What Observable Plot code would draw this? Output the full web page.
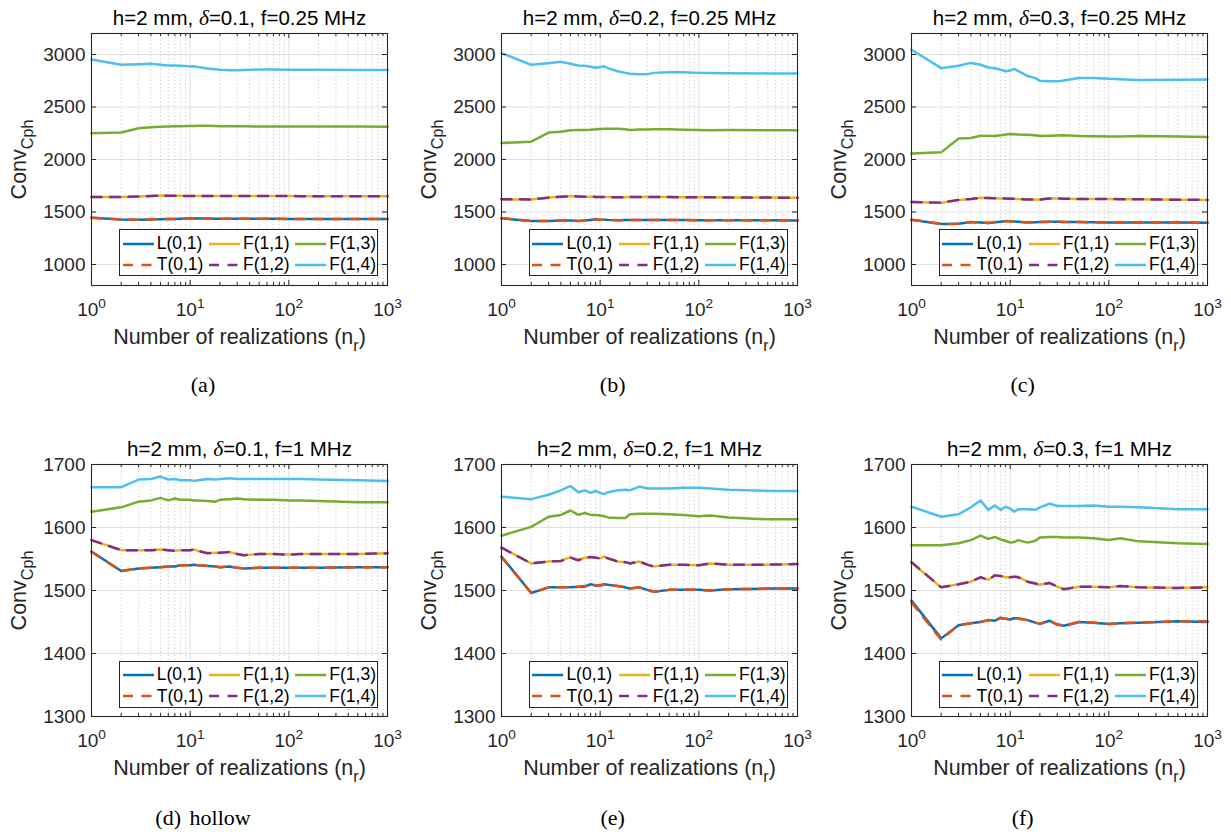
<!DOCTYPE html>
<html><head><meta charset="utf-8">
<script src="https://cdn.jsdelivr.net/npm/d3@7"></script>
<script src="https://cdn.jsdelivr.net/npm/@observablehq/plot@0.6"></script>
<style>
body{margin:0;background:#fff;}
#fig{position:relative;width:1231px;height:836px;overflow:hidden;font-family:"Liberation Sans",Arial,Helvetica,sans-serif;background:#fff;}
.panel{position:absolute;width:410px;height:380px;}
.legend{position:absolute;box-sizing:border-box;border:1px solid #262626;background:#fff;width:259px;height:47px;}
.item{position:absolute;height:20px;display:flex;align-items:center;font-size:17.5px;color:#000;white-space:nowrap;}
.item svg{display:block;margin-right:3px;}
.caption{position:absolute;font-family:"Liberation Serif","Times New Roman",serif;font-size:22px;line-height:1;transform:translate(-50%,-50%);white-space:nowrap;word-spacing:3px;color:#000;}
</style></head><body><div id="fig"></div><script>
// ---------- data ----------
const NR = [1,2,3,4,5,6,7,8,9,10,11,12,15,18,20,25,30,35,50,70,100,130,200,500,1000];
const SERIES = ["L(0,1)","T(0,1)","F(1,1)","F(1,2)","F(1,3)","F(1,4)"];
const TITLES = [
  "h=2 mm, δ=0.1, f=0.25 MHz","h=2 mm, δ=0.2, f=0.25 MHz","h=2 mm, δ=0.3, f=0.25 MHz",
  "h=2 mm, δ=0.1, f=1 MHz","h=2 mm, δ=0.2, f=1 MHz","h=2 mm, δ=0.3, f=1 MHz"];
const CAPTIONS = ["(a)","(b)","(c)","(d) hollow","(e)","(f)"];
const XLABEL = "Number of realizations (n_{r})";
const YLABEL = "Conv_{Cph}";
const X_TICKS = [1,10,100,1000];
const X_MINOR = [2,3,4,5,6,7,8,9,20,30,40,50,60,70,80,90,200,300,400,500,600,700,800,900];
const Y_TICKS_TOP = [1000,1500,2000,2500,3000];
const Y_DOMAIN_TOP = [800,3200];
const Y_TICKS_BOTTOM = [1300,1400,1500,1600,1700];
const Y_DOMAIN_BOTTOM = [1300,1700];

// panel (a)
const a_L01 = [1445,1428,1427,1429,1432,1433,1434,1436,1437,1438,1440,1439,1437,1436,1436,1435,1435,1435,1435,1435,1434,1434,1434,1433,1433];
const a_T01 = [1446,1428,1427,1430,1432,1433,1434,1436,1437,1438,1440,1439,1437,1436,1436,1435,1435,1435,1435,1435,1434,1434,1434,1433,1433];
const a_F11 = [1643,1643,1648,1652,1656,1655,1654,1654,1653,1653,1654,1653,1652,1652,1652,1653,1653,1652,1652,1652,1652,1651,1651,1650,1650];
const a_F12 = [1642,1643,1648,1652,1655,1655,1654,1654,1653,1653,1653,1653,1652,1652,1652,1653,1653,1652,1652,1652,1652,1651,1651,1650,1649];
const a_F13 = [2249,2258,2298,2306,2313,2314,2316,2317,2318,2320,2320,2321,2322,2320,2317,2316,2316,2316,2315,2315,2315,2315,2314,2314,2313];
const a_F14 = [2952,2902,2907,2911,2903,2896,2895,2893,2890,2885,2888,2880,2866,2860,2855,2850,2851,2853,2857,2856,2855,2855,2854,2853,2852];
// panel (b)
const b_L01 = [1440,1414,1415,1420,1418,1414,1418,1424,1430,1426,1427,1425,1422,1423,1423,1424,1424,1423,1423,1423,1422,1422,1421,1421,1420];
const b_T01 = [1441,1415,1415,1420,1418,1415,1418,1424,1429,1426,1427,1425,1422,1423,1423,1424,1424,1423,1423,1423,1422,1422,1421,1421,1420];
const b_F11 = [1620,1620,1637,1645,1652,1648,1646,1646,1644,1642,1643,1642,1641,1641,1642,1642,1642,1642,1642,1641,1640,1640,1639,1637,1636];
const b_F12 = [1621,1620,1637,1645,1651,1648,1646,1646,1644,1642,1643,1642,1641,1641,1642,1642,1642,1642,1642,1641,1640,1640,1639,1637,1636];
const b_F13 = [2157,2170,2256,2265,2278,2280,2282,2284,2287,2291,2292,2293,2294,2288,2282,2285,2286,2287,2288,2284,2280,2279,2280,2279,2278];
const b_F14 = [3013,2902,2917,2930,2911,2895,2892,2884,2873,2880,2888,2870,2841,2825,2816,2813,2813,2825,2832,2830,2825,2824,2822,2820,2819];
// panel (c)
const c_L01 = [1426,1385,1388,1404,1400,1395,1402,1408,1414,1411,1410,1408,1401,1403,1404,1406,1407,1405,1404,1402,1401,1401,1400,1399,1398];
const c_T01 = [1427,1386,1388,1403,1400,1395,1402,1408,1413,1411,1410,1408,1401,1403,1404,1406,1407,1405,1404,1402,1401,1401,1400,1399,1398];
const c_F11 = [1595,1589,1614,1624,1636,1633,1630,1629,1628,1627,1626,1624,1620,1619,1617,1630,1628,1627,1624,1624,1624,1622,1621,1617,1614];
const c_F12 = [1596,1589,1614,1624,1635,1633,1630,1629,1628,1627,1626,1624,1620,1619,1617,1629,1628,1627,1624,1624,1624,1622,1621,1617,1615];
const c_F13 = [2056,2068,2199,2205,2227,2225,2224,2230,2238,2243,2240,2237,2235,2230,2224,2226,2228,2231,2224,2222,2218,2219,2224,2219,2215];
const c_F14 = [3045,2870,2892,2920,2902,2876,2870,2855,2841,2847,2863,2844,2795,2775,2749,2746,2746,2752,2776,2776,2768,2765,2758,2760,2762];
// panel (d)
const d_L01 = [1562,1531,1535,1536,1537,1538,1538,1540,1540,1540,1541,1540,1539,1538,1537,1538,1536,1535,1536,1536,1536,1536,1536,1537,1537];
const d_T01 = [1561,1531,1535,1536,1537,1538,1538,1540,1540,1540,1540,1540,1539,1538,1537,1538,1536,1535,1536,1536,1536,1536,1536,1537,1537];
const d_F11 = [1580,1564,1564,1564,1565,1564,1563,1564,1564,1564,1565,1563,1559,1560,1560,1561,1558,1556,1558,1558,1557,1558,1558,1558,1559];
const d_F12 = [1580,1564,1564,1564,1565,1564,1563,1564,1564,1564,1565,1563,1559,1560,1560,1561,1558,1556,1558,1558,1557,1558,1558,1558,1559];
const d_F13 = [1625,1632,1641,1643,1647,1643,1646,1644,1644,1644,1643,1643,1642,1641,1644,1645,1646,1645,1644,1644,1643,1643,1642,1640,1640];
const d_F14 = [1664,1664,1676,1677,1681,1676,1677,1675,1675,1675,1674,1675,1677,1676,1677,1678,1677,1677,1677,1677,1677,1677,1676,1675,1674];
// panel (e)
const e_L01 = [1554,1496,1505,1505,1505,1506,1506,1510,1508,1508,1510,1509,1507,1505,1503,1505,1501,1498,1501,1501,1501,1500,1502,1503,1503];
const e_T01 = [1553,1496,1505,1505,1505,1506,1507,1510,1508,1508,1510,1509,1507,1505,1503,1505,1501,1498,1501,1501,1501,1500,1502,1503,1503];
const e_F11 = [1568,1543,1546,1547,1553,1548,1552,1553,1552,1551,1554,1551,1546,1545,1543,1546,1541,1538,1541,1541,1540,1543,1541,1541,1542];
const e_F12 = [1568,1543,1546,1547,1552,1548,1552,1553,1552,1551,1553,1551,1546,1545,1543,1546,1541,1538,1541,1541,1540,1543,1541,1541,1542];
const e_F13 = [1587,1601,1617,1620,1627,1620,1623,1620,1620,1619,1618,1616,1615,1615,1621,1622,1622,1622,1621,1620,1618,1619,1616,1613,1613];
const e_F14 = [1649,1645,1652,1659,1666,1656,1659,1655,1658,1655,1653,1656,1659,1660,1659,1665,1662,1662,1662,1663,1663,1662,1660,1658,1658];
// panel (f)
const f_L01 = [1484,1424,1445,1448,1450,1453,1452,1457,1455,1454,1456,1456,1453,1449,1447,1452,1446,1444,1450,1449,1447,1448,1449,1451,1450];
const f_T01 = [1481,1422,1445,1448,1450,1453,1452,1456,1455,1454,1456,1455,1453,1449,1447,1452,1446,1444,1450,1449,1447,1448,1449,1451,1451];
const f_F11 = [1544,1505,1510,1514,1521,1517,1524,1523,1521,1521,1522,1522,1514,1511,1509,1512,1506,1502,1506,1506,1505,1507,1505,1504,1505];
const f_F12 = [1545,1505,1510,1514,1521,1517,1524,1523,1521,1521,1522,1521,1514,1511,1509,1512,1506,1502,1506,1506,1505,1507,1505,1504,1505];
const f_F13 = [1572,1572,1575,1580,1587,1582,1585,1581,1579,1576,1577,1580,1576,1579,1584,1585,1585,1584,1584,1583,1580,1583,1578,1575,1574];
const f_F14 = [1633,1617,1621,1632,1643,1628,1635,1628,1633,1630,1625,1629,1629,1628,1632,1638,1634,1634,1634,1635,1633,1633,1632,1629,1629];

// ---------- styles ----------
const COLORS = ["#0072BD","#D95319","#EDB120","#7E2F8E","#77AC30","#4DBEEE"];
const DASHED = [false,true,false,true,false,false];
const DASH = "10,8.5";
const SERIF = "Liberation Serif, Times New Roman, serif";
const INK = "#262626";

const PANELS = [
  {row:0,col:0,series:[a_L01,a_T01,a_F11,a_F12,a_F13,a_F14]},
  {row:0,col:1,series:[b_L01,b_T01,b_F11,b_F12,b_F13,b_F14]},
  {row:0,col:2,series:[c_L01,c_T01,c_F11,c_F12,c_F13,c_F14]},
  {row:1,col:0,series:[d_L01,d_T01,d_F11,d_F12,d_F13,d_F14]},
  {row:1,col:1,series:[e_L01,e_T01,e_F11,e_F12,e_F13,e_F14]},
  {row:1,col:2,series:[f_L01,f_T01,f_F11,f_F12,f_F13,f_F14]}
];
const ROWS = [{domain:Y_DOMAIN_TOP,ticks:Y_TICKS_TOP},{domain:Y_DOMAIN_BOTTOM,ticks:Y_TICKS_BOTTOM}];
const COL_LEFT = [0,409.7,819.7];
const ROW_TOP = [0,431.3];
const W = 410, H = 380, ML = 91, MR = 23, MT = 33, MB = 95;
const PW = W-ML-MR, PH = H-MT-MB;

function richify(el){
  const s = el.textContent;
  if (!/[_^]\{|δ/.test(s)) return;
  const fs = parseFloat(getComputedStyle(el).fontSize) || 16;
  const parts = s.split(/(_\{[^}]*\}|\^\{[^}]*\}|δ)/).filter(p => p !== "");
  el.textContent = "";
  let shift = 0;
  for (const p of parts){
    const t = document.createElementNS("http://www.w3.org/2000/svg","tspan");
    let target = 0, txt = p;
    if (p.startsWith("_{")) { target = 0.33*fs; txt = p.slice(2,-1); t.setAttribute("font-size",(0.75*fs)+"px"); }
    else if (p.startsWith("^{")) { target = -0.42*fs; txt = p.slice(2,-1); t.setAttribute("font-size",(0.72*fs)+"px"); }
    else if (p === "δ") { t.setAttribute("font-family",SERIF); t.setAttribute("font-style","italic"); t.setAttribute("font-size",(1.05*fs)+"px"); }
    if (target !== shift) { t.setAttribute("dy", target-shift); shift = target; }
    t.textContent = txt;
    el.appendChild(t);
  }
}

const fig = document.getElementById("fig");
PANELS.forEach((p,pi) => {
  const R = ROWS[p.row];
  const rows = [];
  p.series.forEach((vals,si) => vals.forEach((v,i) => rows.push({n:NR[i], v, s:SERIES[si]})));
  const lines = SERIES.map((s,si) => Plot.line(rows.filter(r => r.s === s), {
    x:"n", y:"v", stroke:COLORS[si], strokeWidth:2.5, ...(DASHED[si] ? {strokeDasharray:DASH} : {})
  }));
  const chart = Plot.plot({
    width:W, height:H, marginLeft:ML, marginRight:MR, marginTop:MT, marginBottom:MB,
    x:{type:"log", domain:[1,1000], axis:null},
    y:{domain:R.domain, axis:null},
    style:{fontFamily:"Liberation Sans, Arial, Helvetica, sans-serif", background:"none", overflow:"visible"},
    marks:[
      Plot.ruleY(R.ticks, {y:d=>d, stroke:"#e1e1e1", strokeWidth:1}),
      Plot.ruleX(X_MINOR, {x:d=>d, stroke:"#c4c4c4", strokeWidth:0.9, strokeDasharray:"1.2,2.4"}),
      Plot.ruleX(X_TICKS, {x:d=>d, stroke:"#e1e1e1", strokeWidth:1}),
      ...lines,
      Plot.frame({stroke:INK, strokeWidth:1.1}),
      Plot.tickX(X_TICKS, {x:d=>d, insetTop:PH-5, stroke:INK}),
      Plot.tickX(X_TICKS, {x:d=>d, insetBottom:PH-5, stroke:INK}),
      Plot.tickX(X_MINOR, {x:d=>d, insetTop:PH-3, stroke:INK}),
      Plot.tickX(X_MINOR, {x:d=>d, insetBottom:PH-3, stroke:INK}),
      Plot.tickY(R.ticks, {y:d=>d, insetRight:PW-5, stroke:INK}),
      Plot.tickY(R.ticks, {y:d=>d, insetLeft:PW-5, stroke:INK}),
      Plot.text(X_TICKS, {x:d=>d, frameAnchor:"bottom", dy:30, lineAnchor:"bottom", text:d=>`10^{${Math.round(Math.log10(d))}}`, fontSize:19, fill:INK}),
      Plot.text(R.ticks, {y:d=>d, frameAnchor:"left", dx:-6, textAnchor:"end", text:d=>String(d), fontSize:19, fill:INK}),
      Plot.text([TITLES[pi]], {frameAnchor:"top", dy:-9, lineAnchor:"bottom", text:d=>d, fontSize:20.5, fill:"#000"}),
      Plot.text([XLABEL], {frameAnchor:"bottom", dy:58, lineAnchor:"bottom", text:d=>d, fontSize:21.5, fill:INK}),
      Plot.text([YLABEL], {frameAnchor:"left", dx:-66, rotate:-90, lineAnchor:"bottom", textAnchor:"middle", text:d=>d, fontSize:21.5, fill:INK})
    ]
  });
  const div = document.createElement("div");
  div.className = "panel";
  div.style.left = COL_LEFT[p.col]+"px";
  div.style.top = ROW_TOP[p.row]+"px";
  div.appendChild(chart);
  fig.appendChild(div);
  chart.querySelectorAll("text").forEach(richify);

  // legend
  const lg = document.createElement("div");
  lg.className = "legend";
  lg.style.left = (COL_LEFT[p.col]+ML+28.3)+"px";
  lg.style.top = (ROW_TOP[p.row]+MT+196.3)+"px";
  SERIES.forEach((s,si) => {
    const c = Math.floor(si/2), r = si%2;
    const it = document.createElement("div");
    it.className = "item";
    it.style.left = (2.4+86.3*c)+"px";
    it.style.top = ((r===0?13.3:34.5)-10)+"px";
    it.innerHTML = `<svg width="31" height="6"><line x1="0" y1="3" x2="31" y2="3" stroke="${COLORS[si]}" stroke-width="2.5" ${DASHED[si]?`stroke-dasharray="${DASH}"`:""}/></svg><span>${s}</span>`;
    lg.appendChild(it);
  });
  fig.appendChild(lg);

  // caption
  const cap = document.createElement("div");
  cap.className = "caption";
  cap.textContent = CAPTIONS[pi];
  cap.style.left = (COL_LEFT[p.col]+203)+"px";
  cap.style.top = (p.row===0?385:818)+"px";
  fig.appendChild(cap);
});
</script></body></html>
